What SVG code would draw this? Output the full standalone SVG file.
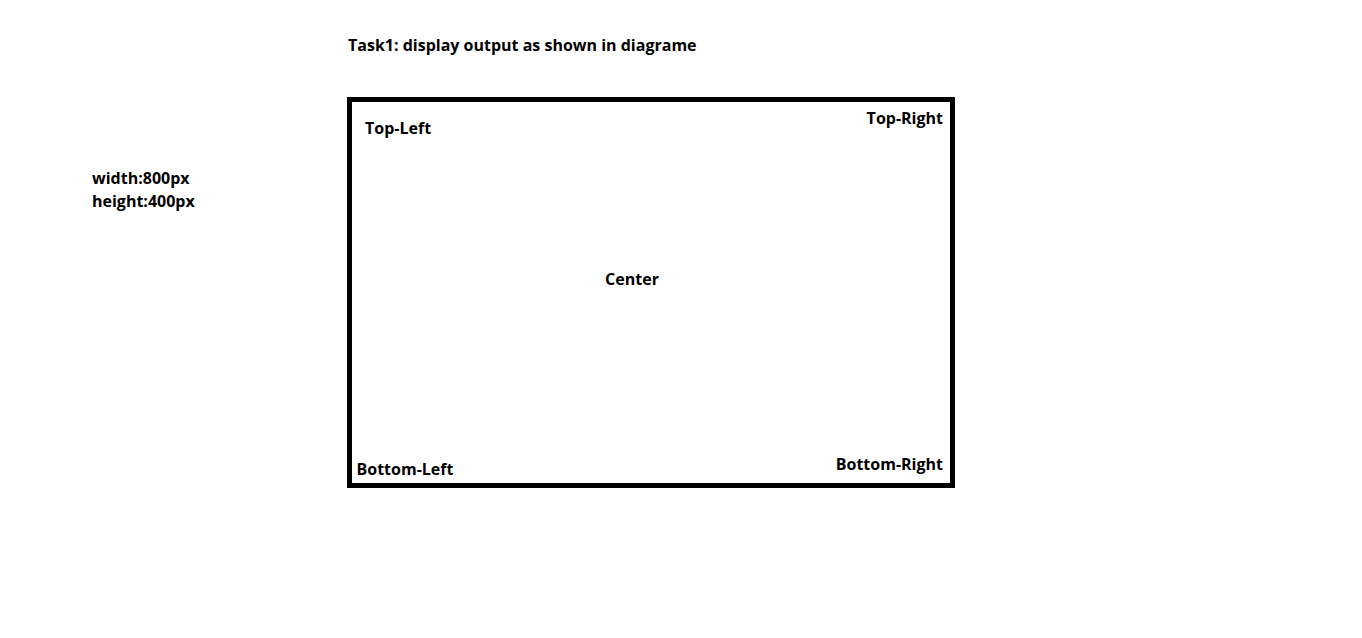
<svg xmlns="http://www.w3.org/2000/svg" width="1362" height="638" viewBox="0 0 1362 638">
<style>
text{font-family:"Open Sans","Noto Sans","Liberation Sans",sans-serif;font-weight:bold;font-size:16px;fill:#000}
.box{fill:#fff;stroke:#000;stroke-width:5}
</style>
<rect x="0" y="0" width="1362" height="638" fill="#fff"/>
<g id="title"><text x="348" y="50.5" font-size="15.8">Task1: display output as shown in diagrame</text></g>
<g id="size-note"><text x="92" y="183.5">width:800px</text><text x="92" y="207">height:400px</text></g>
<g id="box">
<rect class="box" x="349.5" y="99.5" width="603" height="386"/>
<text id="top-left" x="365" y="134">Top-Left</text>
<text id="top-right" x="943" y="123.5" text-anchor="end">Top-Right</text>
<text id="center" x="632" y="284.5" text-anchor="middle">Center</text>
<text id="bottom-left" x="356.5" y="474.5">Bottom-Left</text>
<text id="bottom-right" x="943" y="470" text-anchor="end">Bottom-Right</text>
</g>
<g id="connectors"/>
</svg>
